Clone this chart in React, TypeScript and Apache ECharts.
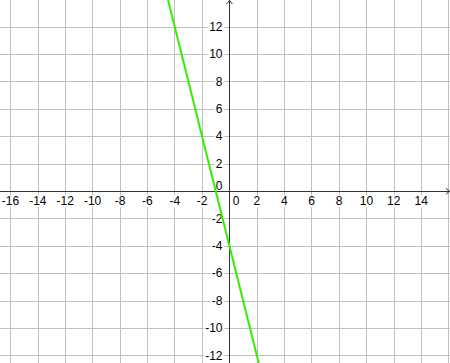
import React, { useEffect, useRef } from "react";
import * as echarts from "echarts";

const X_MIN = -18;
const X_MAX = 16.107;
const Y_MIN = -14;
const Y_MAX = 13.96;
const TICK_STEP = 2;
const X_LABEL_RANGE = [-16, 14];
const Y_LABEL_RANGE = [-12, 12];

const lineX = [-4.6, 2.3];
const lineY = [14.4, -13.2];

const W = 450;
const H = 363;
const GRID_LEFT = -16.92;
const GRID_BOTTOM = -20.1;

const FONT = "'Liberation Sans', Arial, sans-serif";
const ARROW = "path://M0,4 L3.5,0 L7,4 L6,4 L3.5,1.3 L1,4 Z";

function makeFmt(range: number[]) {
  return (v: number) => {
    if (v < range[0] - 1e-6 || v > range[1] + 1e-6) return "";
    if (Math.abs(v % TICK_STEP) > 1e-6) return "";
    if (v === 0) return "{z|0}";
    return "{n|" + v + "}";
  };
}

export default function App() {
  const ref = useRef<HTMLDivElement>(null);
  useEffect(() => {
    document.body.style.margin = "0";
    const chart = echarts.init(ref.current!, undefined, { renderer: "svg" });
    const gridW = W - GRID_LEFT;
    const gridH = H - GRID_BOTTOM;
    const xZeroFromLeft = ((0 - X_MIN) / (X_MAX - X_MIN)) * gridW;
    const yZeroFromBottom = ((0 - Y_MIN) / (Y_MAX - Y_MIN)) * gridH;
    const axisCommon = {
      type: "value",
      interval: TICK_STEP,
      axisTick: { show: false },
      splitLine: {
        show: true,
        showMaxLine: false,
        showMinLine: true,
        lineStyle: { color: "#c0c0c0", width: 1 },
      },
    };
    const axisLineCommon = {
      show: true,
      onZero: false,
      symbol: ["none", ARROW],
      symbolSize: [7, 4],
      symbolOffset: [0, -2],
      lineStyle: { color: "#333", width: 1 },
    };
    chart.setOption({
      animation: false,
      backgroundColor: "#fff",
      grid: {
        left: GRID_LEFT,
        right: 0,
        top: 0,
        bottom: GRID_BOTTOM,
        containLabel: false,
        outerBoundsMode: "none",
      },
      xAxis: {
        ...axisCommon,
        position: "bottom",
        offset: -yZeroFromBottom,
        min: X_MIN,
        max: X_MAX,
        axisLine: axisLineCommon,
        axisLabel: {
          show: true,
          margin: 4,
          showMaxLabel: false,
          showMinLabel: false,
          formatter: makeFmt(X_LABEL_RANGE),
          rich: {
            n: { fontSize: 12, fontFamily: FONT, color: "#000", backgroundColor: "#fff", padding: [0, 1] },
            z: { fontSize: 12, fontFamily: FONT, color: "#000", padding: [0, 0, 0, 13] },
          },
        },
      },
      yAxis: {
        ...axisCommon,
        position: "left",
        offset: -xZeroFromLeft,
        min: Y_MIN,
        max: Y_MAX,
        axisLine: axisLineCommon,
        axisLabel: {
          show: true,
          margin: 6,
          showMaxLabel: false,
          showMinLabel: false,
          formatter: makeFmt(Y_LABEL_RANGE),
          rich: {
            n: { fontSize: 12, fontFamily: FONT, color: "#000", backgroundColor: "#fff", padding: [0, 1] },
            z: { fontSize: 12, fontFamily: FONT, color: "#000", padding: [0, 1, 10, 0] },
          },
        },
      },
      series: [
        {
          type: "line",
          data: lineX.map((x, i) => [x, lineY[i]]),
          symbol: "none",
          clip: true,
          lineStyle: { color: "#33ee00", width: 2 },
          z: 5,
        },
      ],
    });
    return () => chart.dispose();
  }, []);
  return <div ref={ref} style={{ width: W, height: H }} />;
}
